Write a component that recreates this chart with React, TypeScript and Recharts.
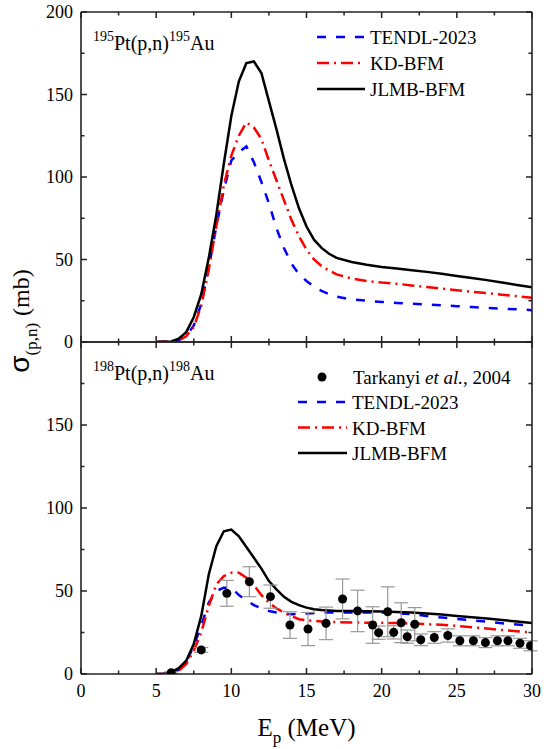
import React from 'react';
import { ComposedChart, Line, Scatter, XAxis, YAxis, ErrorBar, Legend } from 'recharts';

// ---------- data ----------
const energy = [0, 5, 5.5, 6, 6.5, 7, 7.5, 8, 8.5, 9, 9.5, 10, 10.5, 11, 11.5, 12, 12.5, 13, 13.5, 14, 14.5, 15, 15.5, 16, 16.5, 17, 18, 19, 20, 21, 22, 23, 24, 25, 26, 27, 28, 29, 30];

// 195Pt(p,n)195Au
const tendl195 = [null, 0, 0.1, 0.3, 1.2, 3.5, 10, 23, 45, 70, 92, 110, 115, 118.5, 109, 97, 84, 69, 57, 47.5, 41, 37, 33.5, 31, 29, 27.5, 25.8, 25, 24.3, 23.7, 23.2, 22.7, 22.2, 21.7, 21.2, 20.7, 20.2, 19.8, 19.3];
const kd195 = [null, 0, 0.1, 0.2, 1, 3.5, 9, 22, 44, 70, 95, 113, 125, 133, 130, 123, 110, 98, 86, 74, 64, 56, 50, 46, 43.3, 41, 38.5, 37, 36, 35.3, 34.3, 33.3, 32.3, 31.4, 30.5, 29.6, 28.6, 27.7, 26.8];
const jlmb195 = [null, 0, 0.1, 0.3, 2, 6, 15, 29, 51, 77, 108, 137, 158, 169, 170, 163, 146, 129, 111, 95, 81, 70, 62, 57, 53.5, 51, 48.5, 46.8, 45.5, 44.5, 43.5, 42.5, 41.3, 40, 38.8, 37.5, 36, 34.6, 33.2];

// 198Pt(p,n)198Au
const tendl198 = [null, 0, 0.1, 0.8, 2.5, 7, 17, 29, 43, 50, 52, 52, 47.5, 44.5, 41.5, 39.5, 38, 37, 36.3, 36, 36.2, 36.5, 36.8, 37, 37, 37, 37, 37, 37, 36.6, 36, 35, 34, 33.2, 32.3, 31.5, 30.6, 29.8, 29];
const kd198 = [null, 0, 0.1, 0.5, 2, 6, 14, 25, 41, 54, 59, 61, 61, 58, 53.5, 47.5, 43, 39.5, 37, 35, 33, 32.3, 32, 31.7, 31.5, 31.3, 31, 30.9, 30.8, 30.7, 30.4, 30, 29.6, 29, 28.2, 27.4, 26.5, 25.7, 24.9];
const jlmb198 = [null, 0, 0.2, 1, 3.5, 8, 18, 35, 60, 77, 86, 87, 83, 76.5, 70, 63.5, 56, 51, 46.5, 43.5, 41.5, 40, 39, 38.5, 38.2, 38, 38, 37.8, 37.6, 37.4, 37, 36.5, 35.8, 35, 34.2, 33.4, 32.5, 31.6, 30.7];

// Tarkanyi et al., 2004
const expEnergy = [6.0, 8.0, 9.7, 11.2, 12.6, 13.9, 15.1, 16.3, 17.4, 18.4, 19.4, 19.8, 20.4, 20.8, 21.3, 21.7, 22.2, 22.6, 23.5, 24.4, 25.2, 26.1, 26.9, 27.7, 28.4, 29.2, 29.9];
const expSigma = [0.8, 14.5, 48.6, 55.6, 46.6, 29.5, 27.1, 30.5, 45.2, 38, 29.5, 24.9, 37.5, 25.1, 30.9, 22.5, 30, 20.6, 22, 23.2, 20, 20, 18.9, 20, 20, 18.5, 17];
const expError = [0.5, 1.5, 7.8, 9, 7, 8, 10, 9.8, 12, 12.5, 11, 4, 15, 4, 12, 4, 10, 3.5, 3.5, 4, 3, 3, 3, 3, 3, 3, 3];

const xTicks = [0, 2.5, 5, 7.5, 10, 12.5, 15, 17.5, 20, 22.5, 25, 27.5, 30];
const yTicks = [0, 25, 50, 75, 100, 125, 150, 175, 200];
const seriesNames = ['TENDL-2023', 'KD-BFM', 'JLMB-BFM'];
const expName = ['Tarkanyi ', 'et al.', ', 2004'];

// ---------- tables ----------
const table195 = energy.map((x, i) => ({ x, tendl: tendl195[i], kd: kd195[i], jlmb: jlmb195[i] }));
const table198 = energy.map((x, i) => ({ x, tendl: tendl198[i], kd: kd198[i], jlmb: jlmb198[i] }));
const expData = expEnergy.map((x, i) => ({ x, y: expSigma[i], err: expError[i] }));

// ---------- styles ----------
const SERIF = '"Liberation Serif", "Times New Roman", serif';
const SANS = '"Liberation Sans", Arial, sans-serif';
const AXIS = '#222';
const serifStyle = { fontFamily: SERIF };
const seriesStyles = [
  { key: 'tendl', color: '#0000ff', dash: '9 10' },
  { key: 'kd', color: '#ff0000', dash: '12 5 2 5' },
  { key: 'jlmb', color: '#000000', dash: undefined as string | undefined },
];

const makeXTick = (dir: number, labels: boolean) => (props: any) => {
  const { x, y, payload } = props;
  const v = payload.value;
  const major = v % 5 === 0;
  return (
    <g>
      <line x1={x} x2={x} y1={y} y2={y + dir * (major ? 6 : 3.5)} stroke={AXIS} strokeWidth={1.5} />
      {labels && major ? (
        <text x={x} y={y + 23} textAnchor="middle" style={serifStyle} fontSize={18} fill="#000">
          {v}
        </text>
      ) : null}
    </g>
  );
};

const makeYTick = (dir: number, labels: boolean, labelMax: number) => (props: any) => {
  const { x, y, payload } = props;
  const v = payload.value;
  const major = v % 50 === 0;
  return (
    <g>
      <line x1={x} x2={x + dir * (major ? 6 : 3.5)} y1={y} y2={y} stroke={AXIS} strokeWidth={1.5} />
      {labels && major && v <= labelMax ? (
        <text x={x - 8} y={y + 6} textAnchor="end" style={serifStyle} fontSize={18} fill="#000">
          {v}
        </text>
      ) : null}
    </g>
  );
};

const panelTitle = (mass: string) => (props: any) => {
  const vb = props.viewBox || { x: 81, y: 0, height: 12 };
  return (
    <text x={vb.x + 12} y={vb.y + vb.height + 38} style={serifStyle} fill="#000">
      <tspan fontSize={14} dy={-9}>{mass}</tspan>
      <tspan fontSize={20} dy={9}>Pt(p,n)</tspan>
      <tspan fontSize={14} dy={-9}>{mass}</tspan>
      <tspan fontSize={20} dy={9}>Au</tspan>
    </text>
  );
};

const yTitle = (props: any) => {
  const vb = props.viewBox || { x: 0, y: 12, width: 81, height: 330 };
  const cx = vb.x + 29;
  const cy = vb.y + vb.height - 21;
  return (
    <text x={cx} y={cy} transform={`rotate(-90, ${cx}, ${cy})`} textAnchor="middle" fill="#000" style={serifStyle}>
      <tspan style={{ fontFamily: SANS }} fontSize={28}>σ</tspan>
      <tspan fontSize={17} dy={8}>(p,n)</tspan>
      <tspan fontSize={24} dy={-8} dx={7}>(mb)</tspan>
    </text>
  );
};

const xTitle = (props: any) => {
  const vb = props.viewBox || { x: 81, y: 674, width: 451 };
  const cx = vb.x + vb.width / 2;
  const cy = vb.y + 62;
  return (
    <text x={cx} y={cy} textAnchor="middle" fill="#000" style={serifStyle} fontSize={25}>
      E<tspan fontSize={17} dy={7}>p</tspan>
      <tspan dy={-7}> (MeV)</tspan>
    </text>
  );
};

const legendLines = (x1: number, x2: number, tx: number, y0: number, gap: number) =>
  seriesStyles.map((s, i) => (
    <g key={s.key}>
      <line x1={x1} x2={x2} y1={y0 + i * gap} y2={y0 + i * gap} stroke={s.color} strokeWidth={2.5} strokeDasharray={s.dash} />
      <text x={tx} y={y0 + i * gap + 7} style={serifStyle} fontSize={19} fill="#000">
        {seriesNames[i]}
      </text>
    </g>
  ));

const TopLegend = () => (
  <svg width={260} height={100} style={{ overflow: 'visible' }}>
    {legendLines(37, 85, 90, 27, 26)}
  </svg>
);

const BottomLegend = () => (
  <svg width={260} height={110} style={{ overflow: 'visible' }}>
    <circle cx={42} cy={17} r={4.5} fill="#000" />
    <text x={73} y={24} style={serifStyle} fontSize={19} fill="#000">
      {expName[0]}
      <tspan fontStyle="italic">{expName[1]}</tspan>
      {expName[2]}
    </text>
    {legendLines(18, 67, 72, 42, 25.5)}
  </svg>
);

const axisLineStyle = { stroke: AXIS, strokeWidth: 1.6 };

const renderSeries = () =>
  seriesStyles.map((s) => (
    <Line
      key={s.key}
      dataKey={s.key}
      type="linear"
      stroke={s.color}
      strokeWidth={2.5}
      strokeDasharray={s.dash}
      dot={false}
      activeDot={false}
      connectNulls={false}
      isAnimationActive={false}
    />
  ));

export default function App() {
  return (
    <div style={{ position: 'absolute', left: 0, top: 0, width: 544, height: 749, background: '#fff', fontFamily: SERIF }}>
      {/* top panel */}
      <div style={{ position: 'absolute', left: 0, top: 0 }}>
        <ComposedChart width={544} height={749} data={table195} margin={{ top: 0, right: 0, bottom: 377, left: 0 }}>
          {renderSeries()}
          <XAxis dataKey="x" type="number" domain={[0, 30]} allowDataOverflow ticks={xTicks} interval={0} height={30}
            tickSize={0} tickMargin={0} tickLine={false} axisLine={axisLineStyle} tick={makeXTick(-1, false)} />
          <XAxis xAxisId="top" orientation="top" dataKey="x" type="number" domain={[0, 30]} allowDataOverflow ticks={xTicks}
            interval={0} height={12} tickSize={0} tickMargin={0} tickLine={false} axisLine={axisLineStyle}
            tick={makeXTick(1, false)} label={panelTitle('195')} />
          <YAxis type="number" domain={[0, 200]} allowDataOverflow ticks={yTicks} interval={0} width={81} tickSize={0}
            tickMargin={0} tickLine={false} axisLine={axisLineStyle} tick={makeYTick(1, true, 200)} label={yTitle} />
          <YAxis yAxisId="right" orientation="right" type="number" domain={[0, 200]} allowDataOverflow ticks={yTicks}
            interval={0} width={12} tickSize={0} tickMargin={0} tickLine={false} axisLine={axisLineStyle}
            tick={makeYTick(-1, false, 0)} />
          <Legend layout="vertical" align="center" verticalAlign="middle" content={() => <TopLegend />}
            wrapperStyle={{ position: 'absolute', left: 280, top: 10, width: 260, height: 100 }} />
        </ComposedChart>
      </div>
      {/* bottom panel */}
      <div style={{ position: 'absolute', left: 0, top: 0 }}>
        <ComposedChart width={544} height={749} data={table198} margin={{ top: 312, right: 0, bottom: 0, left: 0 }}>
          {renderSeries()}
          <Scatter data={expData} dataKey="y" fill="#000" shape="circle" isAnimationActive={false}>
            <ErrorBar dataKey="err" direction="y" width={7} stroke="#999" strokeWidth={1.2} />
          </Scatter>
          <XAxis dataKey="x" type="number" domain={[0, 30]} allowDataOverflow ticks={xTicks} interval={0} height={75}
            tickSize={0} tickMargin={0} tickLine={false} axisLine={axisLineStyle} tick={makeXTick(-1, true)}
            label={xTitle} />
          <XAxis xAxisId="top" orientation="top" dataKey="x" type="number" domain={[0, 30]} allowDataOverflow ticks={xTicks}
            interval={0} height={30} tickSize={0} tickMargin={0} tickLine={false} axisLine={axisLineStyle}
            tick={makeXTick(1, false)} label={panelTitle('198')} />
          <YAxis type="number" domain={[0, 200]} allowDataOverflow ticks={yTicks} interval={0} width={81} tickSize={0}
            tickMargin={0} tickLine={false} axisLine={axisLineStyle} tick={makeYTick(1, true, 150)} />
          <YAxis yAxisId="right" orientation="right" type="number" domain={[0, 200]} allowDataOverflow ticks={yTicks}
            interval={0} width={12} tickSize={0} tickMargin={0} tickLine={false} axisLine={axisLineStyle}
            tick={makeYTick(-1, false, 0)} />
          <Legend layout="vertical" align="center" verticalAlign="middle" content={() => <BottomLegend />}
            wrapperStyle={{ position: 'absolute', left: 280, top: 360, width: 260, height: 110 }} />
        </ComposedChart>
      </div>
    </div>
  );
}
